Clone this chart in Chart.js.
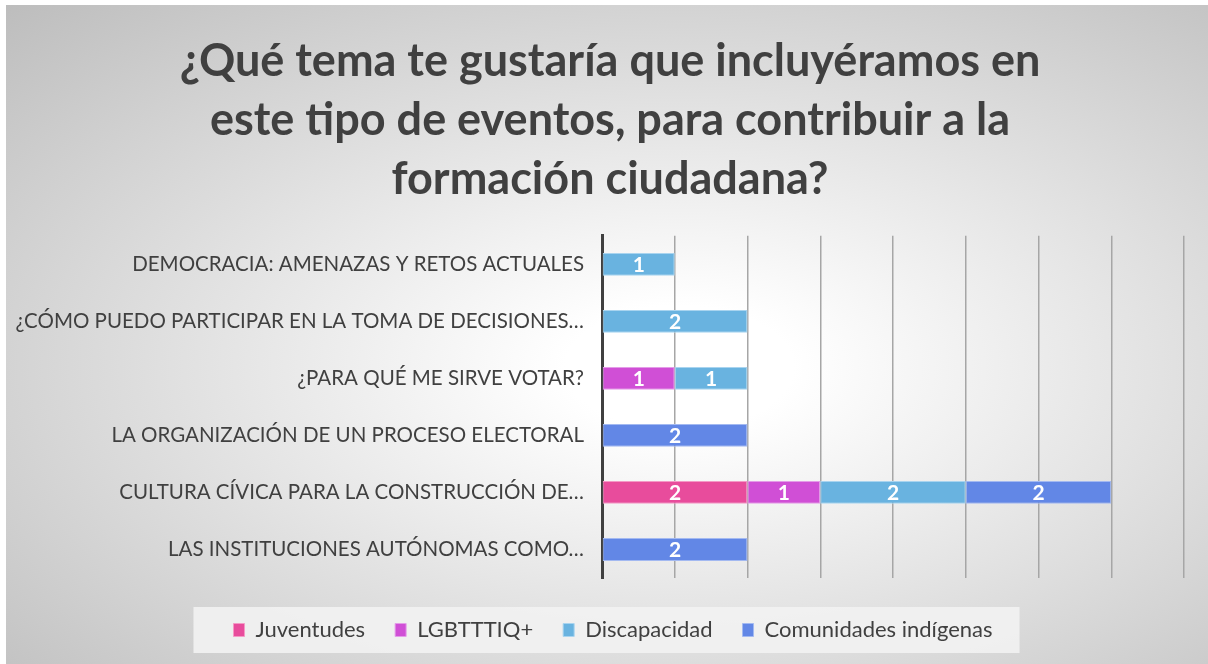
<!DOCTYPE html>
<html>
<head>
<meta charset="utf-8">
<script src="https://cdn.jsdelivr.net/npm/chart.js@4"></script>
<style>
  html, body { margin: 0; padding: 0; background: #ffffff; }
  #wrap { position: relative; width: 1208px; height: 664px; overflow: hidden; }
  #bg {
    position: absolute; left: 6px; top: 5px; right: 0; bottom: 0;
    background: radial-gradient(ellipse farthest-corner at 56% 55%, #ffffff 0%, #ffffff 12%, #bdbdbd 100%);
  }
  #holder { position: absolute; left: 0; top: 0; width: 1208px; height: 664px; }
</style>
</head>
<body>
<div id="wrap">
  <div id="bg"></div>
  <div id="holder"><canvas id="temasChart"></canvas></div>
</div>
<script>
// datos
const categories = [
    'DEMOCRACIA: AMENAZAS Y RETOS ACTUALES',
    '¿CÓMO PUEDO PARTICIPAR EN LA TOMA DE DECISIONES…',
    '¿PARA QUÉ ME SIRVE VOTAR?',
    'LA ORGANIZACIÓN DE UN PROCESO ELECTORAL',
    'CULTURA CÍVICA PARA LA CONSTRUCCIÓN DE…',
    'LAS INSTITUCIONES AUTÓNOMAS COMO…'
];
const juventudes   = [null, null, null, null, 2, null];
const lgbtttiq     = [null, null, 1, null, 1, null];
const discapacidad = [1, 2, 1, null, 2, null];
const comunidades  = [null, null, null, 2, 2, 2];

const titleLines = [
    '¿Qué tema te gustaría que incluyéramos en',
    'este tipo de eventos, para contribuir a la',
    'formación ciudadana?'
];

const textColor = '#404040';

// etiquetas blancas dentro de cada segmento
const segmentLabels = {
    id: 'segmentLabels',
    afterDatasetsDraw(chart) {
        const ctx = chart.ctx;
        ctx.save();
        ctx.font = 'bold 21px Lato';
        ctx.fillStyle = '#ffffff';
        ctx.textAlign = 'center';
        ctx.textBaseline = 'middle';
        chart.data.datasets.forEach((ds, i) => {
            const meta = chart.getDatasetMeta(i);
            meta.data.forEach((bar, j) => {
                const v = ds.data[j];
                if (!v) return;
                ctx.fillText(String(v), (bar.x + bar.base) / 2, bar.y + 1);
            });
        });
        ctx.restore();
    }
};

// titulo y leyenda un poco a la derecha (el eje y ocupa casi la mitad)
const shiftBlocks = {
    id: 'shiftBlocks',
    afterLayout(chart) {
        if (chart.titleBlock) chart.titleBlock.left += 30;
        if (chart.legend) chart.legend.left += 36;
    }
};

// fondo claro detras de la leyenda
const legendBox = {
    id: 'legendBox',
    beforeDraw(chart) {
        const boxes = chart.legend && chart.legend.legendHitBoxes;
        if (!boxes || !boxes.length) return;
        const left = Math.min(...boxes.map(b => b.left)) - 40;
        const right = Math.max(...boxes.map(b => b.left + b.width)) + 27;
        const cy = boxes[0].top + boxes[0].height / 2;
        const ctx = chart.ctx;
        ctx.save();
        ctx.fillStyle = 'rgba(242, 242, 242, 0.9)';
        ctx.fillRect(left, cy - 23, right - left, 46);
        ctx.restore();
    }
};

const ctx1 = document.getElementById('temasChart').getContext('2d');
new Chart(ctx1, {
    type: 'bar',
    data: {
        labels: categories,
        datasets: [{
            label: 'Juventudes',
            data: juventudes,
            backgroundColor: '#e84c9c',
            borderColor: '#f49ac6'
        }, {
            label: 'LGBTTTIQ+',
            data: lgbtttiq,
            backgroundColor: '#d04fd6',
            borderColor: '#e49ce8'
        }, {
            label: 'Discapacidad',
            data: discapacidad,
            backgroundColor: '#69b3e0',
            borderColor: '#a9d4ef'
        }, {
            label: 'Comunidades indígenas',
            data: comunidades,
            backgroundColor: '#6287e6',
            borderColor: '#a3b9f1'
        }]
    },
    options: {
        indexAxis: 'y',
        responsive: true,
        maintainAspectRatio: false,
        animation: false,
        datasets: {
            bar: {
                borderWidth: 1,
                borderSkipped: false,
                barPercentage: 0.4,
                categoryPercentage: 1
            }
        },
        layout: {
            padding: { left: 6, right: 24, top: 5, bottom: 13 }
        },
        scales: {
            x: {
                stacked: true,
                min: 0,
                max: 8,
                ticks: { display: false, stepSize: 1 },
                grid: { color: '#a6a6a6', lineWidth: 1.5, drawTicks: false },
                border: { display: false },
                afterFit(scale) {
                    scale.height = 11;
                }
            },
            y: {
                stacked: true,
                grid: { display: false },
                border: { display: true, color: '#404040', width: 3 },
                ticks: {
                    color: textColor,
                    padding: 10,
                    font: { family: 'Lato', size: 20.5 }
                },
                afterFit(scale) {
                    scale.width = 596;
                }
            }
        },
        plugins: {
            title: {
                display: true,
                text: titleLines,
                color: textColor,
                padding: { top: 27, bottom: 27 },
                font: { family: 'Lato', size: 45, weight: 'bold', lineHeight: 1.31 }
            },
            legend: {
                position: 'bottom',
                labels: {
                    color: textColor,
                    boxWidth: 11,
                    boxHeight: 13,
                    padding: 30,
                    font: { family: 'Lato', size: 22 }
                }
            },
            tooltip: { enabled: false }
        }
    },
    plugins: [shiftBlocks, legendBox, segmentLabels]
});
</script>
</body>
</html>
